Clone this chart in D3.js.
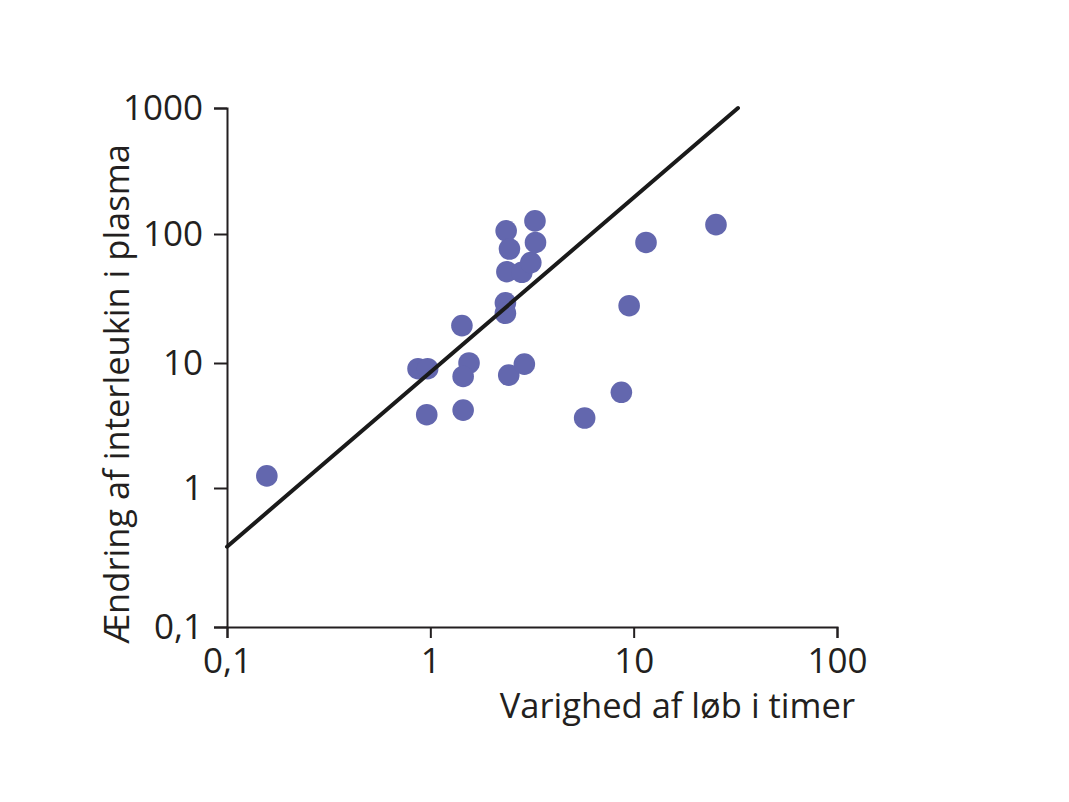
<!DOCTYPE html>
<html>
<head>
<meta charset="utf-8">
<script src="https://cdn.jsdelivr.net/npm/d3@7"></script>
<style>
  html, body { margin: 0; padding: 0; background: #fff; }
  svg text { font-family: "Open Sans", sans-serif; fill: #231f20; }
</style>
</head>
<body>
<div id="chart"></div>
<script>
// data
const hours    = [0.157, 0.87, 0.97, 0.96, 1.43, 1.55, 1.45, 1.45,
                  2.36, 2.45, 2.38, 2.82, 3.12, 3.27, 3.29, 2.34,
                  2.34, 2.43, 2.90, 5.74, 8.7, 9.5, 11.5, 25.4];
const change   = [1.25, 9.0, 9.0, 3.86, 19.5, 10.0, 7.8, 4.2,
                  106, 76.5, 51, 50.5, 60, 127, 86, 29.3,
                  24.3, 8.0, 9.8, 3.63, 5.83, 27.8, 86, 118.6];
const fitX     = [0.1, 32.6];
const fitY     = [0.378, 1000];
const xTicks   = [0.1, 1, 10, 100];
const yTicks   = [0.1, 1, 10, 100, 1000];
const xLabels  = ["0,1", "1", "10", "100"];
const yLabels  = ["0,1", "1", "10", "100", "1000"];

const width  = 1069;
const height = 802;
const ink    = "#231f20";
const dotCol = "#6367ae";

const svg = d3.select("#chart").append("svg")
  .attr("width", width)
  .attr("height", height);

svg.append("rect").attr("width", width).attr("height", height).attr("fill", "#fff");

const x = d3.scaleLog()
  .domain([0.1, 100])
  .range([227, 837]);

// the printed decades are not evenly spaced, so map each one
const y = d3.scaleLog()
  .domain(yTicks)
  .range([627, 488, 363, 234, 108]);

const xAxis = d3.axisBottom(x)
  .tickValues(xTicks)
  .tickFormat((d, i) => xLabels[i])
  .tickSizeOuter(0)
  .tickSize(11)
  .tickPadding(10);

const yAxis = d3.axisLeft(y)
  .tickValues(yTicks)
  .tickFormat((d, i) => yLabels[i])
  .tickSizeOuter(0)
  .tickSize(13)
  .tickPadding(11);

const gx = svg.append("g")
  .attr("transform", "translate(0," + 627 + ")")
  .call(xAxis);

const gy = svg.append("g")
  .attr("transform", "translate(" + 227 + ",0)")
  .call(yAxis);

[gx, gy].forEach(g => {
  g.selectAll("path, line").attr("stroke", ink).attr("stroke-width", 2);
  g.selectAll("text")
    .attr("font-family", "'Open Sans', sans-serif")
    .attr("font-size", 35)
    .attr("fill", ink);
});

svg.append("g")
  .selectAll("circle")
  .data(hours)
  .enter().append("circle")
  .attr("cx", d => x(d))
  .attr("cy", (d, i) => y(change[i]))
  .attr("r", 10.8)
  .attr("fill", dotCol);

svg.append("line")
  .attr("x1", x(fitX[0]))
  .attr("y1", y(fitY[0]))
  .attr("x2", x(fitX[1]))
  .attr("y2", y(fitY[1]))
  .attr("stroke", "#1a1a1a")
  .attr("stroke-width", 4)
  .attr("stroke-linecap", "round");

svg.append("text")
  .attr("x", 855)
  .attr("y", 718)
  .attr("text-anchor", "end")
  .attr("font-size", 34.5)
  .text("Varighed af løb i timer");

svg.append("text")
  .attr("transform", "translate(129,394) rotate(-90)")
  .attr("text-anchor", "middle")
  .attr("font-size", 34.5)
  .text("Ændring af interleukin i plasma");
</script>
</body>
</html>
